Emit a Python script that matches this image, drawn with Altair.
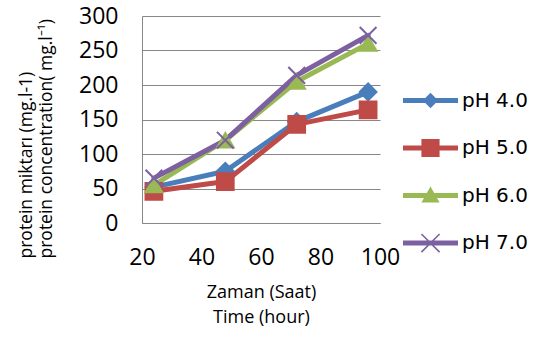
import altair as alt
import pandas as pd

times = [24, 48, 72, 96]
series_names = ["pH 4.0", "pH 5.0", "pH 6.0", "pH 7.0"]
ph4 = [52, 75, 147, 190]
ph5 = [46, 60, 143, 164]
ph6 = [55, 120, 205, 260]
ph7 = [65, 120, 214, 272]
colors = ["#4A7EBB", "#BE4B48", "#98B954", "#7D60A0"]
x_ticks = [20, 40, 60, 80, 100]
y_ticks = [0, 50, 100, 150, 200, 250, 300]

rows = []
for name, vals in zip(series_names, [ph4, ph5, ph6, ph7]):
    for t, v in zip(times, vals):
        rows.append({"time": t, "value": v, "series": name, "leg": name})
df = pd.DataFrame(rows)

# marker shapes for the plot
plot_shapes = [
    "diamond",
    "square",
    "triangle-up",
    "M-1,-1L1,1M-1,1L1,-1",
]
# legend symbols: line + marker combined as paths
line_p = "M-1,-0.09L1,-0.09L1,0.09L-1,0.09Z"
leg_shapes = [
    line_p + "M-0.28,0L0,-0.28L0.28,0L0,0.28Z",
    line_p + "M-0.33,-0.33L0.33,-0.33L0.33,0.33L-0.33,0.33Z",
    line_p + "M-0.33,0.25L0,-0.33L0.33,0.25Z",
    line_p + "M-0.31,-0.35L0.35,0.31L0.31,0.35L-0.35,-0.31Z"
    + "M-0.35,0.31L0.31,-0.35L0.35,-0.31L-0.31,0.35Z",
]

tick_font = "Open Sans"
title_font = "Open Sans"

x_enc = alt.X(
    "time:Q",
    scale=alt.Scale(domain=[20, 100], nice=False, zero=False),
    axis=alt.Axis(
        values=x_ticks,
        tickCount=20,
        grid=False,
        ticks=False,
        domainColor="#878787",
        domainWidth=1,
        labelFont=tick_font,
        labelFontSize=23,
        labelColor="#000000",
        labelPadding=23,
        labelFlush=False,
        labelOverlap=False,
        title=["Zaman (Saat)", "Time (hour)"],
        titleFont=title_font,
        titleFontSize=18,
        titleFontWeight="normal",
        titleColor="#000000",
        titleLineHeight=25,
        titleBaseline="top",
        titleY=60,
    ),
)
y_enc = alt.Y(
    "value:Q",
    scale=alt.Scale(domain=[0, 300], nice=False),
    axis=alt.Axis(
        values=y_ticks,
        tickCount=20,
        grid=True,
        gridColor="#878787",
        gridWidth=1,
        ticks=False,
        domainColor="#878787",
        domainWidth=1,
        labelFont=tick_font,
        labelFontSize=23,
        labelColor="#000000",
        labelPadding=24,
        labelOverlap=False,
        title=["protein miktarı (mg.l-1)", "protein concentration( mg.l⁻¹)"],
        titleFont=title_font,
        titleFontSize=17.5,
        titleFontWeight="normal",
        titleColor="#000000",
        titleLineHeight=20,
        titleAngle=270,
        titleAlign="left",
        titleBaseline="top",
        titleX=-125,
        titleY=242,
    ),
)

color_plot = alt.Color(
    "series:N",
    scale=alt.Scale(domain=series_names, range=colors),
    legend=None,
)

lines = alt.Chart(df).mark_line(strokeWidth=5, strokeCap="round", strokeJoin="round").encode(
    x=x_enc,
    y=y_enc,
    color=color_plot,
    order="time:Q",
)

points = alt.Chart(df).mark_point(filled=True, opacity=1, strokeWidth=2).encode(
    x="time:Q",
    y="value:Q",
    fill=alt.Fill("series:N", scale=alt.Scale(domain=series_names, range=colors), legend=None),
    stroke=alt.Stroke("series:N", scale=alt.Scale(domain=series_names, range=colors), legend=None),
    shape=alt.Shape("series:N", scale=alt.Scale(domain=series_names, range=plot_shapes), legend=None),
    size=alt.value(280),
)

leg_props = dict(
    title=None,
    orient="none",
    legendX=261,
    legendY=57,
    symbolSize=3025,
    symbolOpacity=1,
    symbolStrokeWidth=0,
    labelFont="DejaVu Sans",
    labelFontSize=20,
    labelColor="#000000",
    labelOffset=4,
    rowPadding=9.5,
    padding=0,
)

legend_layer = alt.Chart(df).mark_point(filled=True, opacity=0).encode(
    x="time:Q",
    y="value:Q",
    color=alt.Color(
        "leg:N",
        scale=alt.Scale(domain=series_names, range=colors),
        legend=alt.Legend(**leg_props),
    ),
    shape=alt.Shape(
        "leg:N",
        scale=alt.Scale(domain=series_names, range=leg_shapes),
        legend=alt.Legend(**leg_props),
    ),
)

chart = (
    alt.layer(lines, points, legend_layer)
    .resolve_scale(color="independent", shape="independent", fill="independent", stroke="independent")
    .properties(
        width=238,
        height=207,
        padding={"left": 142, "top": 16, "right": 163, "bottom": 115},
        autosize=alt.AutoSizeParams(type="none"),
        background="white",
    )
    .configure_view(stroke=None)
)

chart.save("out.html", embed_options={"renderer": "svg", "actions": False})
